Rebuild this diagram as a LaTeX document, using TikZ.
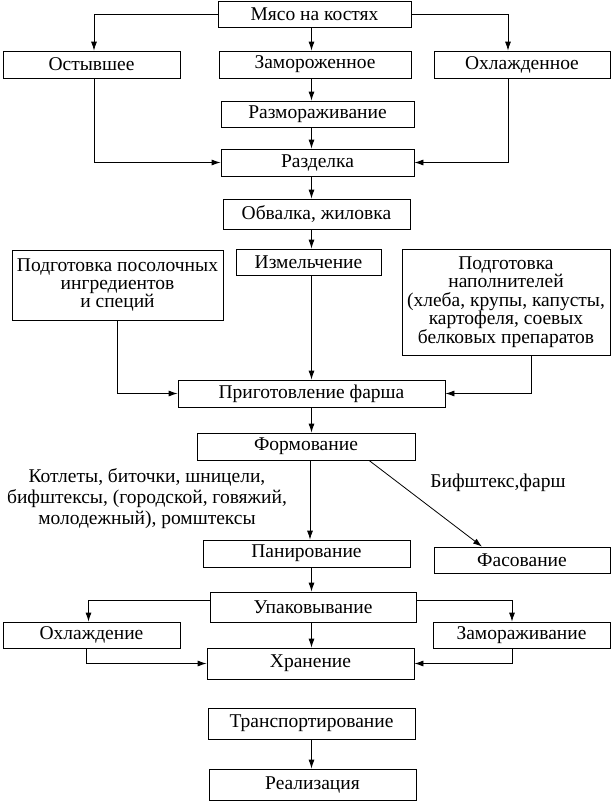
\documentclass[tikz,border=0pt]{standalone}
\usepackage{fontspec}
\setmainfont{Liberation Serif}
\usetikzlibrary{arrows.meta}
\begin{document}
\begin{tikzpicture}[x=1pt,y=-1pt,
  box/.style={draw,line width=0.8pt,inner sep=1pt,align=center,font=\fontsize{19.5}{18.4}\selectfont},
  lbl/.style={inner sep=0pt,align=center,font=\fontsize{19.5}{21}\selectfont},
  arr/.style={line width=0.8pt,-{Latex[length=9pt,width=6pt]}}]
\useasboundingbox (0,0) rectangle (612,801);
\coordinate (cx) at (311.5,0);
% boxes
\node[box,minimum width=193pt,minimum height=26pt] (m) at (314.5,14) {Мясо на костях};
\node[box,minimum width=177pt,minimum height=27pt] (ost) at (91.5,64.5) {Остывшее};
\node[box,minimum width=192pt,minimum height=27pt] (zam) at (315,64.5) {Замороженное};
\node[box,minimum width=176pt,minimum height=27pt] (ohl) at (522,64.5) {Охлажденное};
\node[box,minimum width=193pt,minimum height=26pt] (razm) at (317.5,114) {Размораживание};
\node[box,minimum width=193pt,minimum height=27pt] (razd) at (317.5,162.5) {Разделка};
\node[box,minimum width=187pt,minimum height=30pt] (obv) at (316.5,214) {Обвалка, жиловка};
\node[box,minimum width=211pt,minimum height=70pt] (pos) at (117.5,285) {Подготовка посолочных\\ингредиентов\\и специй};
\node[box,minimum width=145pt,minimum height=26pt] (izm) at (308.5,262) {Измельчение};
\node[box,minimum width=208pt,minimum height=106pt] (nap) at (506,302) {Подготовка\\наполнителей\\(хлеба, крупы, капусты,\\картофеля, соевых\\белковых препаратов};
\node[box,minimum width=267pt,minimum height=27pt] (prig) at (311.5,393.5) {Приготовление фарша};
\node[box,minimum width=218pt,minimum height=27pt] (form) at (306,446.5) {Формование};
\node[lbl] (kotl) at (147,499) {Котлеты, биточки, шницели,\\бифштексы, (городской, говяжий,\\молодежный), ромштексы};
\node[lbl] (bif) at (498,483) {Бифштекс,фарш};
\node[box,minimum width=207pt,minimum height=27pt] (pan) at (306.5,553.5) {Панирование};
\node[box,minimum width=176pt,minimum height=26pt] (fas) at (522,560) {Фасование};
\node[box,minimum width=206pt,minimum height=30pt] (upak) at (313,607) {Упаковывание};
\node[box,minimum width=177pt,minimum height=26pt] (ohlzh) at (91.5,635) {Охлаждение};
\node[box,minimum width=177pt,minimum height=26pt] (zamr) at (521.5,635) {Замораживание};
\node[box,minimum width=207pt,minimum height=31pt] (hran) at (310.5,663.5) {Хранение};
\node[box,minimum width=207pt,minimum height=31pt] (trans) at (311.5,723.5) {Транспортирование};
\node[box,minimum width=207pt,minimum height=31pt] (real) at (312.5,784.5) {Реализация};
% connectors
\draw[arr] (m.west) -| ([xshift=2.5pt]ost.north);
\draw[arr] (m.east) -| ([xshift=-14pt]ohl.north);
\draw[arr] (m.south -| cx) -- (zam.north -| cx);
\draw[arr] (zam.south -| cx) -- (razm.north -| cx);
\draw[arr] (razm.south -| cx) -- (razd.north -| cx);
\draw[arr] ([xshift=2.5pt]ost.south) |- (razd.west);
\draw[arr] ([xshift=-14pt]ohl.south) |- (razd.east);
\draw[arr] (razd.south -| cx) -- (obv.north -| cx);
\draw[arr] (obv.south -| cx) -- (izm.north -| cx);
\draw[arr] (izm.south -| cx) -- (prig.north -| cx);
\draw[arr] (pos.south) |- (prig.west);
\draw[arr] ([xshift=25pt]nap.south) |- (prig.east);
\draw[arr] (prig.south -| cx) -- (form.north -| cx);
\draw[arr] ([xshift=-1.5pt]form.south -| cx) -- ([xshift=-1.5pt]pan.north -| cx);
\draw[arr] ([xshift=63pt]form.south) -- ([xshift=-40pt]fas.north);
\draw[arr] (pan.south -| cx) -- (upak.north -| cx);
\draw[arr] ([yshift=7pt]upak.west) -| ([xshift=-3pt]ohlzh.north);
\draw[arr] ([yshift=7pt]upak.east) -| ([xshift=-9.5pt]zamr.north);
\draw[arr] (upak.south -| cx) -- (hran.north -| cx);
\draw[arr] ([xshift=-5.5pt]ohlzh.south) |- (hran.west);
\draw[arr] ([xshift=-9.5pt]zamr.south) |- (hran.east);
\draw[arr] (trans.south -| cx) -- (real.north -| cx);
\end{tikzpicture}
\end{document}
